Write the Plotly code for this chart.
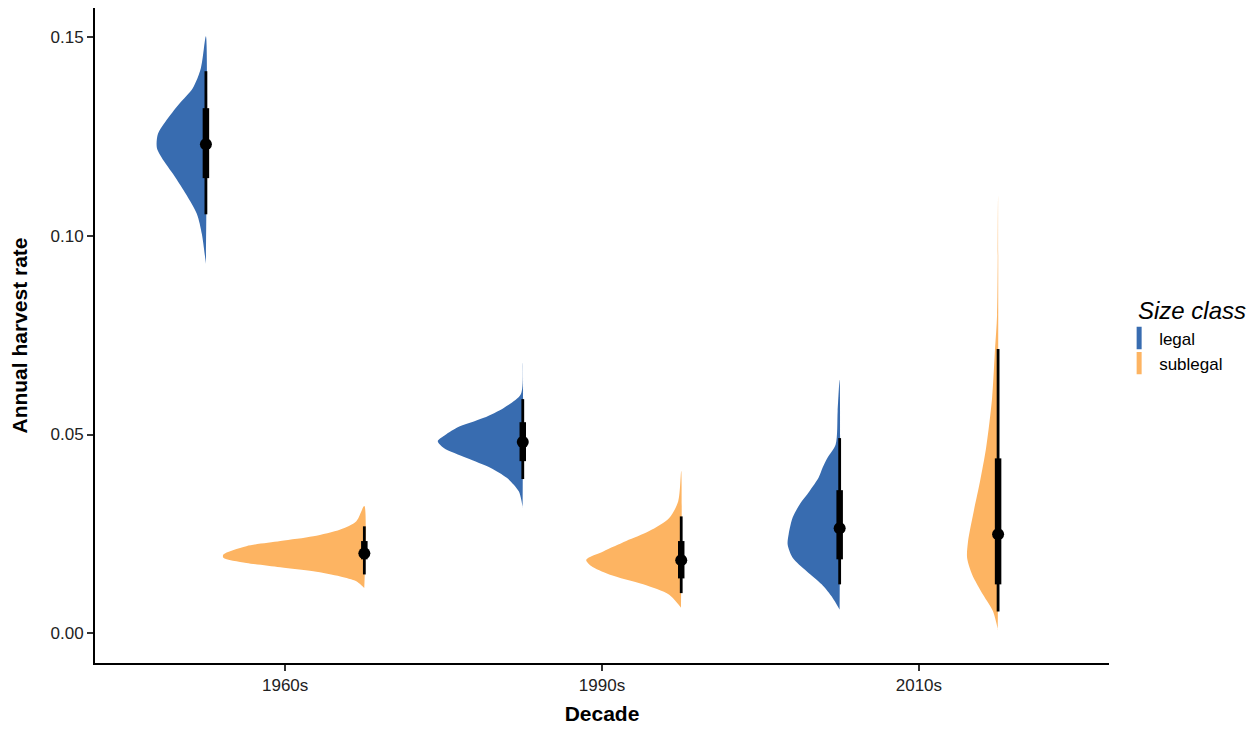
import plotly.graph_objects as go

# ---------------- data ----------------
decades = ["1960s", "1990s", "2010s"]
size_classes = ["legal", "sublegal"]
colors = {"legal": "#386CB0", "sublegal": "#FDB462"}

# slab profiles: (harvest-rate values, relative density thickness)
legal_1960_y = [0.1502, 0.1422, 0.1372, 0.1331, 0.1289, 0.1256, 0.1221, 0.1188, 0.1145, 0.1105, 0.1055, 0.1004, 0.0929]
legal_1960_d = [0, 5, 13, 27, 40, 48, 49, 42, 30, 20, 9, 4, 0]
sub_1960_y = [0.0320, 0.0282, 0.0261, 0.0244, 0.0232, 0.0219, 0.0198, 0.0190, 0.0177, 0.0166, 0.0156, 0.0143, 0.0131, 0.0114]
sub_1960_d = [0, 8, 24, 51, 84, 118, 141, 141, 118, 84, 51, 24, 8, 0]
legal_1990_y = [0.0680, 0.0601, 0.0567, 0.0542, 0.0517, 0.0496, 0.0483, 0.0466, 0.0441, 0.0416, 0.0391, 0.0357, 0.0315]
legal_1990_d = [0, 2, 19, 39, 66, 79, 85, 79, 56, 32, 16, 4, 0]
sub_1990_y = [0.0408, 0.0332, 0.0290, 0.0257, 0.0232, 0.0206, 0.0185, 0.0169, 0.0148, 0.0123, 0.0097, 0.0064]
sub_1990_d = [0, 3, 12, 32, 55, 78, 95, 90, 72, 38, 12, 0]
legal_2010_y = [0.0638, 0.0559, 0.0475, 0.0442, 0.0417, 0.0392, 0.0358, 0.0324, 0.0291, 0.0249, 0.0223, 0.0190, 0.0156, 0.0123, 0.0089, 0.0060]
legal_2010_d = [0, 2, 4, 12, 17, 21, 30, 40, 47, 51, 52, 47, 33, 18, 7, 0]
sub_2010_y = [0.1100, 0.0802, 0.0718, 0.0592, 0.0466, 0.0383, 0.0299, 0.0232, 0.0190, 0.0148, 0.0097, 0.0055, 0.0008]
sub_2010_d = [0, 1, 3, 6, 12, 18, 25, 30, 31, 26, 15, 5, 0]

# point intervals: median, 66% lo/hi, 95% lo/hi
medians = {"legal": [0.1230, 0.0481, 0.0264], "sublegal": [0.0201, 0.0184, 0.0249]}
lo66 = {"legal": [0.1145, 0.0433, 0.0186], "sublegal": [0.0186, 0.0138, 0.0123]}
hi66 = {"legal": [0.1321, 0.0531, 0.0360], "sublegal": [0.0232, 0.0232, 0.0440]}
lo95 = {"legal": [0.1054, 0.0388, 0.0123], "sublegal": [0.0148, 0.0101, 0.0055]}
hi95 = {"legal": [0.1414, 0.0589, 0.0491], "sublegal": [0.0269, 0.0294, 0.0715]}

slabs = {
    "legal": [(legal_1960_y, legal_1960_d), (legal_1990_y, legal_1990_d), (legal_2010_y, legal_2010_d)],
    "sublegal": [(sub_1960_y, sub_1960_d), (sub_1990_y, sub_1990_d), (sub_2010_y, sub_2010_d)],
}

# ---------------- styling / layout params ----------------
DODGE = {"legal": -0.25, "sublegal": 0.25}
SLAB_MAX = 0.445  # max slab thickness in x units
FONT = "Liberation Sans, Arial, sans-serif"

dmax = max(max(d) for g in slabs.values() for _, d in g)

fig = go.Figure()

for sc in size_classes:
    for i, dec in enumerate(decades):
        xc = i + DODGE[sc]
        ys, ds = slabs[sc][i]
        xs = [xc - SLAB_MAX * d / dmax for d in ds]
        fig.add_trace(go.Scatter(
            x=xs + [xc, xc], y=ys + [ys[-1], ys[0]],
            mode="lines", fill="toself", fillcolor=colors[sc],
            line=dict(width=0, color=colors[sc], shape="spline", smoothing=0.8),
            showlegend=False, hoverinfo="skip"))

for sc in size_classes:
    for i, dec in enumerate(decades):
        xc = i + DODGE[sc]
        fig.add_trace(go.Scatter(x=[xc, xc], y=[lo95[sc][i], hi95[sc][i]], mode="lines",
                                 line=dict(color="black", width=2.8), showlegend=False, hoverinfo="skip"))
        fig.add_trace(go.Scatter(x=[xc, xc], y=[lo66[sc][i], hi66[sc][i]], mode="lines",
                                 line=dict(color="black", width=6.5), showlegend=False, hoverinfo="skip"))
        fig.add_trace(go.Scatter(x=[xc], y=[medians[sc][i]], mode="markers",
                                 marker=dict(color="black", size=12), showlegend=False, hoverinfo="skip"))

# legend entries
for sc in size_classes:
    fig.add_trace(go.Scatter(x=[None], y=[None], mode="markers", name=sc,
                             marker=dict(symbol="line-ns", size=16,
                                         line=dict(color=colors[sc], width=7))))

fig.update_layout(
    width=1250, height=721,
    margin=dict(l=87, r=149, t=0, b=66, autoexpand=False),
    plot_bgcolor="white", paper_bgcolor="white",
    font=dict(family=FONT, color="black"),
    showlegend=True,
    legend=dict(x=1.010, y=0.523, xanchor="left", yanchor="top",
                font=dict(size=17, family=FONT, color="black"),
                tracegroupgap=0, itemwidth=30, bgcolor="rgba(0,0,0,0)"),
    annotations=[dict(text="<i>Size class</i>", x=1.0266, y=0.538, xref="paper", yref="paper",
                      xanchor="left", yanchor="middle", showarrow=False,
                      font=dict(size=24, family=FONT, color="black"))],
)

fig.update_xaxes(
    range=[-0.6, 2.6], tickvals=list(range(len(decades))), ticktext=decades,
    showline=True, linecolor="black", linewidth=2, mirror=False,
    ticks="outside", ticklen=6, tickwidth=1.5, tickcolor="#333",
    tickfont=dict(size=17, color="#222"), showgrid=False, zeroline=False,
    title=dict(text="<b>Decade</b>", font=dict(size=21, color="black"), standoff=12),
)
fig.update_yaxes(
    range=[-0.00748, 0.1573], tickvals=[0.0, 0.05, 0.10, 0.15],
    ticktext=["0.00", "0.05", "0.10", "0.15"],
    showline=True, linecolor="black", linewidth=2, mirror=False,
    ticks="outside", ticklen=6, tickwidth=1.5, tickcolor="#333",
    tickfont=dict(size=17, color="#222"), showgrid=False, zeroline=False,
    title=dict(text="<b>Annual harvest rate</b>", font=dict(size=21, color="black"), standoff=18),
)

fig.write_html("out.html")
